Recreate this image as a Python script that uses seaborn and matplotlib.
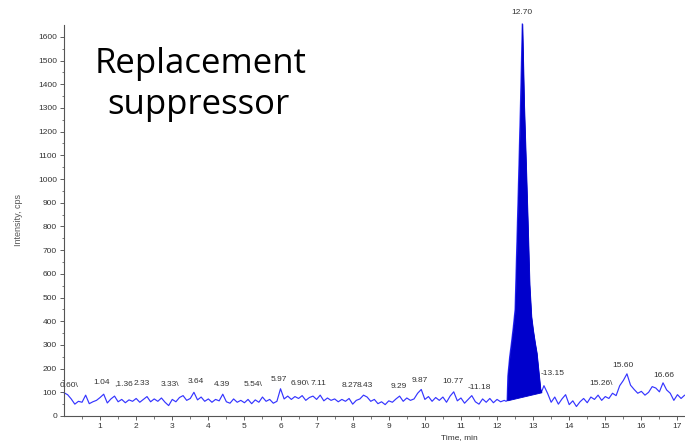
import numpy as np
import pandas as pd
import matplotlib
matplotlib.use("Agg")
import matplotlib.pyplot as plt
import seaborn as sns

# ---------------- data ----------------
time_min = [
    0.0, 0.1, 0.2, 0.3, 0.4, 0.5, 0.6, 0.7, 0.8, 0.9,
    1.0, 1.1, 1.2, 1.3, 1.4, 1.5, 1.6, 1.7, 1.8, 1.9,
    2.0, 2.1, 2.2, 2.3, 2.4, 2.5, 2.6, 2.7, 2.8, 2.9,
    3.0, 3.1, 3.2, 3.3, 3.4, 3.5, 3.6, 3.7, 3.8, 3.9,
    4.0, 4.1, 4.2, 4.3, 4.4, 4.5, 4.6, 4.7, 4.8, 4.9,
    5.0, 5.1, 5.2, 5.3, 5.4, 5.5, 5.6, 5.7, 5.8, 5.9,
    6.0, 6.1, 6.2, 6.3, 6.4, 6.5, 6.6, 6.7, 6.8, 6.9,
    7.0, 7.1, 7.2, 7.3, 7.4, 7.5, 7.6, 7.7, 7.8, 7.9,
    8.0, 8.1, 8.2, 8.3, 8.4, 8.5, 8.6, 8.7, 8.8, 8.9,
    9.0, 9.1, 9.2, 9.3, 9.4, 9.5, 9.6, 9.7, 9.8, 9.9,
    10.0, 10.1, 10.2, 10.3, 10.4, 10.5, 10.6, 10.7, 10.8, 10.9,
    11.0, 11.1, 11.2, 11.3, 11.4, 11.5, 11.6, 11.7, 11.8, 11.9,
    12.0, 12.1, 12.2,
    12.25, 12.28, 12.30, 12.35, 12.40, 12.45, 12.50, 12.55, 12.60, 12.65,
    12.70, 12.75, 12.80, 12.85, 12.90, 12.95, 13.00, 13.05, 13.10, 13.15,
    13.20, 13.23,
    13.3, 13.4, 13.5, 13.6, 13.7, 13.8, 13.9,
    14.0, 14.1, 14.2, 14.3, 14.4, 14.5, 14.6, 14.7, 14.8, 14.9,
    15.0, 15.1, 15.2, 15.3, 15.4, 15.5, 15.6, 15.7, 15.8, 15.9,
    16.0, 16.1, 16.2, 16.3, 16.4, 16.5, 16.6, 16.7, 16.8, 16.9,
    17.0, 17.1, 17.2,
]
intensity_cps = [
    98, 90, 72, 50, 62, 58, 88, 52, 60, 66,
    78, 92, 55, 72, 84, 60, 70, 56, 68, 62,
    74, 58, 70, 82, 60, 72, 62, 76, 58, 44,
    70, 60, 78, 86, 66, 74, 100, 68, 80, 62,
    72, 58, 70, 64, 92, 60, 54, 72, 58, 66,
    56, 70, 52, 68, 58, 80, 62, 70, 54, 62,
    115, 72, 84, 70, 82, 74, 86, 66, 78, 84,
    70, 88, 64, 76, 66, 72, 60, 70, 62, 74,
    50, 66, 72, 88, 80, 62, 70, 52, 60, 48,
    64, 58, 72, 84, 62, 76, 66, 72, 96, 112,
    70, 82, 62, 78, 66, 80, 58, 84, 102, 64,
    76, 54, 70, 86, 60, 50, 72, 58, 74, 56,
    70, 60, 66,
    62, 66, 170, 250, 310, 375, 450, 730, 1020, 1320,
    1655, 1310, 1070, 820, 555, 420, 360, 310, 265, 190,
    115, 100,
    128, 96, 58, 80, 50, 72, 90,
    48, 64, 40, 60, 74, 56, 80, 70, 88, 66,
    82, 74, 96, 86, 128, 150, 178, 130, 112, 96,
    104, 88, 100, 124, 118, 102, 140, 110, 96, 66,
    90, 74, 88,
]

# integrated peak baseline (start / end)
peak_base_time = [12.28, 13.23]
peak_base_level = [66, 100]

# peak labels: text, label x (min), label y (cps)
label_texts = ["0.60\\", "1.04", ",1.36", "2.33", "3.33\\", "3.64", "4.39",
               "5.54\\", "5.97", "6.90\\", "7.11", "8.27", "8.43", "9.29",
               "9.87", "10.77", "-11.18", "12.70", "-13.15", "15.26\\",
               "15.60", "16.66"]
label_x = [0.15, 1.04, 1.66, 2.14, 2.95, 3.64, 4.39,
           5.25, 5.94, 6.55, 7.05, 7.92, 8.34, 9.29,
           9.87, 10.79, 11.52, 12.70, 13.55, 14.88,
           15.49, 16.63]
label_y = [122, 135, 131, 131, 126, 139, 126,
           126, 148, 131, 131, 122, 122, 118,
           143, 139, 114, 1695, 173, 131,
           207, 165]

yticks = list(range(0, 1700, 100))
xticks = list(range(1, 18))

# ---------------- figure ----------------
sns.set_style("ticks")
plt.rcParams["font.family"] = ["Liberation Sans", "DejaVu Sans"]

fig = plt.figure(figsize=(6.85, 4.42), dpi=100)
ax = fig.add_axes([64 / 685, 1 - 416 / 442, 1 - 64 / 685 - 0.001, (416 - 25) / 442])

df = pd.DataFrame({"Time, min": time_min, "Intensity, cps": intensity_cps})
sns.lineplot(data=df, x="Time, min", y="Intensity, cps", ax=ax,
             color="#3535ff", linewidth=0.85, estimator=None, sort=False)

t = np.asarray(time_min, dtype=float)
v = np.asarray(intensity_cps, dtype=float)
mask = (t >= peak_base_time[0]) & (t <= peak_base_time[1])
base = np.interp(t[mask], peak_base_time, peak_base_level)
ax.fill_between(t[mask], base, v[mask], color="#0000cc", linewidth=0.6,
                edgecolor="#0000cc", clip_on=False, zorder=3)
for ln in ax.lines:
    ln.set_clip_on(False)

for txt, lx, ly in zip(label_texts, label_x, label_y):
    ax.text(lx, ly, txt, fontsize=6, ha="center", va="baseline",
            color="#333333", clip_on=False)

ax.set_xlim(0, 17.19)
ax.set_ylim(0, 1650)
ax.set_xticks(xticks)
ax.set_xticks(np.arange(0.5, 17.2, 1.0), minor=True)
ax.set_yticks(yticks)
ax.set_yticks(np.arange(50, 1650, 100), minor=True)
ax.tick_params(axis="both", which="major", labelsize=6, length=3, width=0.6,
               colors="#444444", pad=2)
ax.tick_params(axis="both", which="minor", length=1.8, width=0.5, colors="#444444")
for lab in ax.get_xticklabels() + ax.get_yticklabels():
    lab.set_color("#333333")

sns.despine(ax=ax)
for s in ["left", "bottom"]:
    ax.spines[s].set_color("#555555")
    ax.spines[s].set_linewidth(0.8)

ax.set_xlabel("Time, min", fontsize=6, color="#333333")
ax.set_ylabel("Intensity, cps", fontsize=6.5, color="#555555")
ax.xaxis.set_label_coords((460 - 64) / (685 - 64), -0.045)
ax.yaxis.set_label_coords(-0.066, 0.5)

fig.text(95 / 685, 1 - 73 / 442, "Replacement", fontsize=25,
         family=["Open Sans", "DejaVu Sans"], color="black", va="baseline")
fig.text(107 / 685, 1 - 114 / 442, "suppressor", fontsize=25,
         family=["Open Sans", "DejaVu Sans"], color="black", va="baseline")

fig.savefig("out.png", dpi=100)
